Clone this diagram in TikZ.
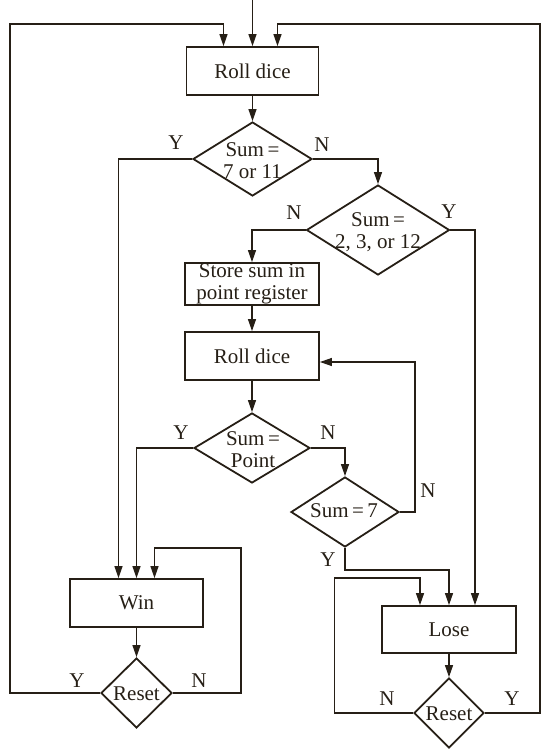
\documentclass[tikz,border=0pt]{standalone}
\usepackage{fontspec}
\setmainfont{Liberation Serif}
\usetikzlibrary{shapes.geometric,arrows.meta}
\definecolor{ink}{RGB}{38,31,22}
\begin{document}
\begin{tikzpicture}[x=1pt,y=-1pt,
  txt/.style={font=\fontsize{21}{22}\selectfont, text=ink, align=center},
  box/.style={txt, draw=ink, line width=1.8pt, rectangle, inner sep=0pt},
  dec/.style={draw=ink, line width=1.8pt, diamond, inner sep=0pt},
  yn/.style={txt, inner sep=0pt},
  arr/.style={draw=ink, line width=1.2pt, -{Triangle[length=12pt,width=8pt]}},
  ln/.style={draw=ink, line width=1.2pt}]
\useasboundingbox (0,0) rectangle (541,750);

% boxes
\node[box, minimum width=132pt, minimum height=48pt] (roll1) at (252.5,71) {Roll dice};
\node[box, minimum width=134pt, minimum height=42pt] (store) at (252,284) {Store sum in\\point register};
\node[box, minimum width=134pt, minimum height=48pt] (roll2) at (252,356) {Roll dice};
\node[box, minimum width=133pt, minimum height=48pt] (win) at (136.5,603) {Win};
\node[box, minimum width=134pt, minimum height=47pt] (lose) at (449,629.5) {Lose};

% decisions
\node[dec, minimum width=119pt, minimum height=74pt] (d1) at (252.5,159) {};
\node[txt, inner sep=0pt] (d1t) at (252.5,161) {Sum\,=\\7 or 11};
\node[dec, minimum width=143pt, minimum height=90pt] (d2) at (378,230) {};
\node[txt, inner sep=0pt] (d2t) at (378,232) {Sum\,=\\2, 3, or 12};
\node[dec, minimum width=116pt, minimum height=70pt] (d3) at (252,448) {};
\node[txt, inner sep=0pt] (d3t) at (253,450) {Sum\,=\\Point};
\node[dec, minimum width=108pt, minimum height=70pt] (d4) at (345,512) {};
\node[txt, inner sep=0pt] (d4t) at (344,511) {Sum\,=\,7};
\node[dec, minimum width=71pt, minimum height=70pt] (r1) at (136.5,693) {};
\node[txt, inner sep=0pt] (r1t) at (136.5,694) {Reset};
\node[dec, minimum width=70pt, minimum height=70pt] (r2) at (449,713) {};
\node[txt, inner sep=0pt] (r2t) at (449,714) {Reset};

% free ends
\coordinate (start) at (252.5,0);
\coordinate (ltop) at (10,24);
\coordinate (rtop) at (540,24);

% connectors
\draw[arr] (start) -- (roll1.north);
\draw[arr] (roll1.south) -- (d1.north);
\draw[arr] (d1.west) -| ([xshift=-18pt]win.north);
\draw[arr] (d1.east) -| (d2.north);
\draw[arr] (d2.west) -| (store.north);
\draw[arr] (d2.east) -| ([xshift=26pt]lose.north);
\draw[arr] (store.south) -- (roll2.north);
\draw[arr] (roll2.south) -- (d3.north);
\draw[arr] (d3.west) -| (win.north);
\draw[arr] (d3.east) -| (d4.north);
\draw[arr] (d4.east) -- ++(15,0) |- ([yshift=-6pt]roll2.east);
\draw[arr] (d4.south) -- ++(0,22) -| (lose.north);
\draw[arr] (win.south) -- (r1.north);
\draw[arr] (lose.south) -- (r2.north);
\draw[arr] (r1.east) -- ++(68,0) -- ++(0,-145) -| ([xshift=18pt]win.north);
\draw[arr] (r1.west) -| (ltop) -| ([xshift=-29pt]roll1.north);
\draw[arr] (r2.west) -- ++(-79,0) -- ++(0,-135) -| ([xshift=-29pt]lose.north);
\draw[arr] (r2.east) -| (rtop) -| ([xshift=25pt]roll1.north);

% Y / N labels
\node[yn] (l1y) at (176,143) {Y};
\node[yn] (l1n) at (322,145) {N};
\node[yn] (l2n) at (294,213) {N};
\node[yn] (l2y) at (449,212) {Y};
\node[yn] (l3y) at (181,433) {Y};
\node[yn] (l3n) at (328,433) {N};
\node[yn] (l4n) at (428,491) {N};
\node[yn] (l4y) at (328,560) {Y};
\node[yn] (l5y) at (77,681) {Y};
\node[yn] (l5n) at (199,681) {N};
\node[yn] (l6n) at (387,699) {N};
\node[yn] (l6y) at (512,699) {Y};
\end{tikzpicture}
\end{document}
